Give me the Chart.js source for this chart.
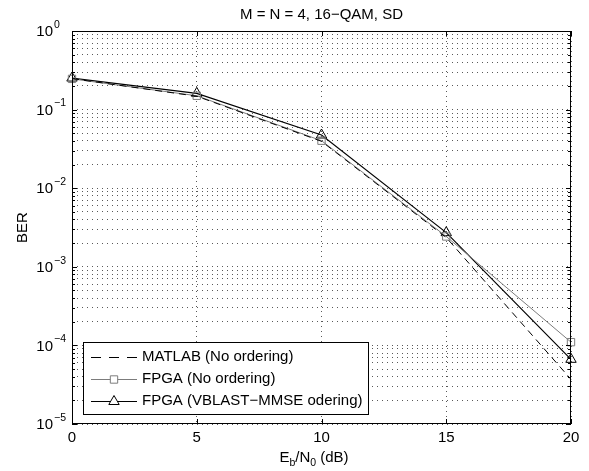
<!DOCTYPE html>
<html>
<head>
<meta charset="utf-8">
<script src="https://cdn.jsdelivr.net/npm/chart.js@4.4.1/dist/chart.umd.min.js"></script>
<style>
html,body{margin:0;padding:0;background:#fff;}
#wrap{position:relative;width:589px;height:471px;}
</style>
</head>
<body>
<div id="wrap"><canvas id="c" width="589" height="471"></canvas></div>
<script>
// ---- data ----
const snrDb = [0, 5, 10, 15, 20];
const berMatlabNoOrd = [0.248, 0.148, 0.0395, 0.00236, 0.000037];
const berFpgaNoOrd   = [0.246, 0.150, 0.0402, 0.00243, 0.000110];
const berFpgaVblast  = [0.252, 0.161, 0.0475, 0.00272, 0.0000665];
const xTicks = [0, 5, 10, 15, 20];
const yDecades = [-5, -4, -3, -2, -1, 0];
const seriesNames = ['MATLAB (No ordering)', 'FPGA (No ordering)', 'FPGA (VBLAST\u2212MMSE odering)'];
const titleText = 'M = N = 4, 16\u2212QAM, SD';
const yLabel = 'BER';

const FONT = '"Liberation Sans", Arial, Helvetica, sans-serif';
const GRAY = '#7c7c7c';

function pts(ys){ return snrDb.map((x,i)=>({x:x, y:ys[i]})); }

const yTickVals = [];
for (let k = -5; k < 0; k++) for (let m = 1; m <= 9; m++) yTickVals.push(+(m * Math.pow(10, k)).toPrecision(3));
yTickVals.push(1);

const decor = {
  id: 'decor',
  afterDatasetsDraw(chart){
    const ctx = chart.ctx, a = chart.chartArea;
    const xs = chart.scales.x, ys = chart.scales.y;
    ctx.save();
    ctx.strokeStyle = '#000';
    ctx.lineWidth = 1;
    ctx.setLineDash([]);
    ctx.strokeRect(Math.round(a.left)+0.5, Math.round(a.top)+0.5, Math.round(a.right-a.left)-1, Math.round(a.bottom-a.top)-1);
    ctx.beginPath();
    yTickVals.forEach(v=>{
      const y = Math.round(ys.getPixelForValue(v)) + 0.5;
      const major = Math.abs(Math.log10(v) - Math.round(Math.log10(v))) < 1e-9;
      const len = major ? 5 : 3;
      ctx.moveTo(a.left, y); ctx.lineTo(a.left + len, y);
      ctx.moveTo(a.right, y); ctx.lineTo(a.right - len, y);
    });
    xTicks.forEach(v=>{
      const x = Math.round(xs.getPixelForValue(v)) + 0.5;
      ctx.moveTo(x, a.bottom); ctx.lineTo(x, a.bottom - 5);
      ctx.moveTo(x, a.top); ctx.lineTo(x, a.top + 5);
    });
    ctx.stroke();
    ctx.restore();
  },
  afterDraw(chart){
    const ctx = chart.ctx, a = chart.chartArea;
    const xs = chart.scales.x, ys = chart.scales.y;
    ctx.save();
    ctx.setLineDash([]);
    ctx.fillStyle = '#000';
    yDecades.forEach(k=>{
      const y = ys.getPixelForValue(Math.pow(10, k));
      ctx.font = '15px ' + FONT;
      ctx.textAlign = 'right'; ctx.textBaseline = 'middle';
      ctx.fillText('10', 53, y + 1);
      ctx.font = '10.5px ' + FONT;
      ctx.textAlign = 'left';
      ctx.fillText(k === 0 ? '0' : '\u2212' + Math.abs(k), 54, y - 6);
    });
    ctx.font = '15px ' + FONT;
    ctx.textAlign = 'center'; ctx.textBaseline = 'middle';
    xTicks.forEach(v=>{
      ctx.fillText(String(v), xs.getPixelForValue(v), 438);
    });
    ctx.fillText(titleText, (a.left + a.right)/2, 15);
    ctx.save();
    ctx.translate(23, (a.top + a.bottom)/2);
    ctx.rotate(-Math.PI/2);
    ctx.fillText(yLabel, 0, 0);
    ctx.restore();
    const parts = [['E',0],['b',1],['/N',0],['0',1],[' (dB)',0]];
    let w = 0;
    parts.forEach(p=>{ ctx.font = (p[1] ? '10.5px ' : '15px ') + FONT; w += ctx.measureText(p[0]).width; });
    let x = 314 - w/2;
    ctx.textAlign = 'left'; ctx.textBaseline = 'alphabetic';
    parts.forEach(p=>{
      ctx.font = (p[1] ? '10.5px ' : '15px ') + FONT;
      ctx.fillText(p[0], x, p[1] ? 466 : 462);
      x += ctx.measureText(p[0]).width;
    });
    // legend
    const L = 83, T = 342, R = 368, B = 414;
    ctx.fillStyle = '#fff';
    ctx.fillRect(L, T, R-L, B-T);
    ctx.strokeStyle = '#000'; ctx.lineWidth = 1;
    ctx.strokeRect(L+0.5, T+0.5, R-L, B-T);
    const rows = [357, 379, 401];
    const sx0 = 91, sx1 = 137, mx = 114;
    chart.data.datasets.forEach((ds, i)=>{
      const y = rows[i] + 0.5;
      ctx.save();
      ctx.strokeStyle = ds.borderColor; ctx.lineWidth = ds.borderWidth;
      ctx.setLineDash(i === 0 ? [10, 8] : []);
      ctx.beginPath(); ctx.moveTo(sx0, y); ctx.lineTo(sx1, y); ctx.stroke();
      ctx.setLineDash([]);
      if (ds.pointRadius > 0) {
        ctx.fillStyle = '#fff';
        ctx.strokeStyle = ds.pointBorderColor;
        ctx.lineWidth = ds.pointBorderWidth;
        Chart.helpers.drawPoint(ctx, {pointStyle: ds.pointStyle, radius: ds.pointRadius, borderWidth: ds.pointBorderWidth, rotation: 0}, mx, y);
      }
      ctx.restore();
      ctx.fillStyle = '#000';
      ctx.font = '15px ' + FONT;
      ctx.textAlign = 'left'; ctx.textBaseline = 'middle';
      ctx.fillText(seriesNames[i], 142, rows[i]);
    });
    ctx.restore();
  }
};

const gridOpts = { drawTicks: false, color: 'rgba(0,0,0,0.65)', lineWidth: 1 };
const borderOpts = { display: false, dash: [1, 4] };

new Chart(document.getElementById('c'), {
  type: 'line',
  data: {
    datasets: [
      { label: seriesNames[0], data: pts(berMatlabNoOrd), borderColor: '#000', borderWidth: 1, borderDash: [7, 5],
        pointRadius: 0, pointStyle: false, fill: false, tension: 0, clip: false },
      { label: seriesNames[1], data: pts(berFpgaNoOrd), borderColor: GRAY, borderWidth: 1,
        pointStyle: 'rect', pointRadius: 5.2, pointBorderColor: GRAY, pointBorderWidth: 1,
        pointBackgroundColor: 'rgba(0,0,0,0)', fill: false, tension: 0, clip: false },
      { label: seriesNames[2], data: pts(berFpgaVblast), borderColor: '#000', borderWidth: 1.2,
        pointStyle: 'triangle', pointRadius: 6, pointBorderColor: '#000', pointBorderWidth: 1,
        pointBackgroundColor: 'rgba(0,0,0,0)', fill: false, tension: 0, clip: false }
    ]
  },
  options: {
    responsive: false,
    animation: false,
    devicePixelRatio: 1,
    layout: { padding: { left: 72, top: 31, right: 18, bottom: 47 } },
    plugins: { legend: { display: false }, title: { display: false }, tooltip: { enabled: false } },
    scales: {
      x: {
        type: 'linear', min: 0, max: 20,
        afterBuildTicks(s){ s.ticks = xTicks.map(v=>({value:v})); },
        ticks: { display: false },
        grid: gridOpts,
        border: borderOpts
      },
      y: {
        type: 'logarithmic', min: 1e-5, max: 1,
        afterBuildTicks(s){ s.ticks = yTickVals.map(v=>({value:v})); },
        ticks: { display: false },
        grid: gridOpts,
        border: borderOpts
      }
    }
  },
  plugins: [decor]
});
</script>
</body>
</html>
